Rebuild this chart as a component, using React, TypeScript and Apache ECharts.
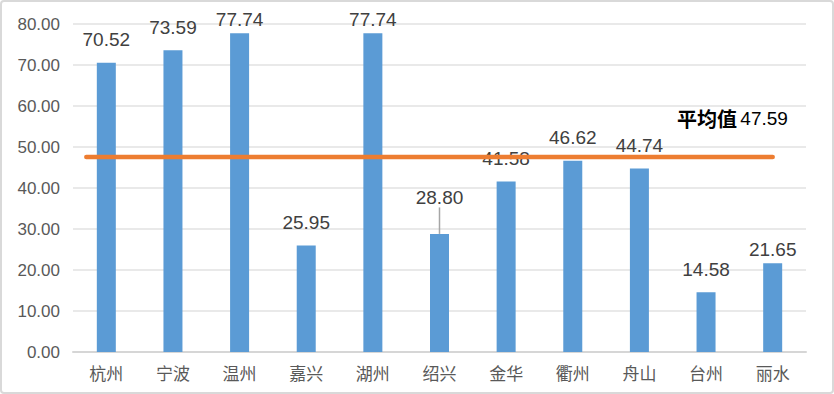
import React, { useEffect, useRef } from "react";
import * as echarts from "echarts";

const categories = ["杭州", "宁波", "温州", "嘉兴", "湖州", "绍兴", "金华", "衢州", "舟山", "台州", "丽水"];
const values = [70.52, 73.59, 77.74, 25.95, 77.74, 28.8, 41.58, 46.62, 44.74, 14.58, 21.65];
const averageValue = 47.59;
const averageLabel = "平均值";
const yTicks = [0, 10, 20, 30, 40, 50, 60, 70, 80];
// horizontal extent of the average line, in category-band units
const averageLineX = [0.2, 10.5];

// label distances (layout, not data)
const labelDistance: Record<number, number> = { 2: 4.5, 4: 4.5, 10: 4.5 };
const leaderIndex = 5;

export default function App() {
  const ref = useRef<HTMLDivElement>(null);
  useEffect(() => {
    document.body.style.margin = "0";
    const chart = echarts.init(ref.current!, null, { renderer: "svg" });
    const option: any = {
      animation: false,
      backgroundColor: "#ffffff",
      grid: { left: 73, right: 28, top: 24, bottom: 42, containLabel: false },
      xAxis: [
        {
          type: "category",
          data: categories,
          axisLine: { show: true, lineStyle: { color: "#d6d6d6", width: 2 } },
          axisTick: { show: false },
          axisLabel: {
            color: "#595959",
            fontSize: 17,
            fontFamily: "Noto Sans CJK SC",
            margin: 12,
          },
        },
        {
          type: "value",
          min: 0,
          max: categories.length,
          show: false,
        },
      ],
      yAxis: {
        type: "value",
        min: yTicks[0],
        max: yTicks[yTicks.length - 1],
        interval: 10,
        axisLine: { show: false },
        axisTick: { show: false },
        splitLine: { show: true, lineStyle: { color: "#e2e2e2", width: 1.5 } },
        axisLabel: {
          color: "#595959",
          fontSize: 17,
          fontFamily: "Liberation Sans",
          margin: 13,
          formatter: (v: number) => v.toFixed(2),
        },
      },
      series: [
        {
          type: "bar",
          xAxisIndex: 0,
          barWidth: 19,
          itemStyle: { color: "#5b9bd5" },
          data: values.map((v, i) => ({
            value: v,
            label: { distance: labelDistance[i] ?? 13.5 },
            labelLine: {
              show: i === leaderIndex,
              lineStyle: { color: "#a6a6a6", width: 1.5 },
            },
          })),
          label: {
            show: true,
            position: "top",
            color: "#404040",
            fontSize: 19,
            fontFamily: "Liberation Sans",
            formatter: (p: any) => p.value.toFixed(2),
          },
          labelLayout: (p: any) => (p.dataIndex === leaderIndex ? { dy: -13 } : {}),
          labelLine: { show: false },
          z: 2,
        },
        {
          type: "line",
          xAxisIndex: 1,
          symbol: "none",
          data: averageLineX.map((x) => [x, averageValue]),
          lineStyle: { color: "#ed7d31", width: 4.5, cap: "round" },
          z: 5,
        },
      ],
      graphic: [
        {
          type: "rect",
          silent: true,
          shape: { x: 1, y: 1, width: 832, height: 392, r: 3 },
          style: { fill: "none", stroke: "#d9d9d9", lineWidth: 2 },
          z: -1,
        },
        {
          type: "text",
          left: 677,
          top: 108,
          style: {
            text: `{a|${averageLabel}} {b|${averageValue.toFixed(2)}}`,
            rich: {
              a: {
                fontFamily: "Noto Sans CJK SC",
                fontWeight: "bold",
                fontSize: 20,
                fill: "#000000",
              },
              b: {
                fontFamily: "Liberation Sans",
                fontSize: 19,
                fill: "#000000",
              },
            },
          },
          z: 10,
        },
      ],
    };
    chart.setOption(option);
    return () => chart.dispose();
  }, []);
  return <div ref={ref} style={{ width: 834, height: 394 }} />;
}
